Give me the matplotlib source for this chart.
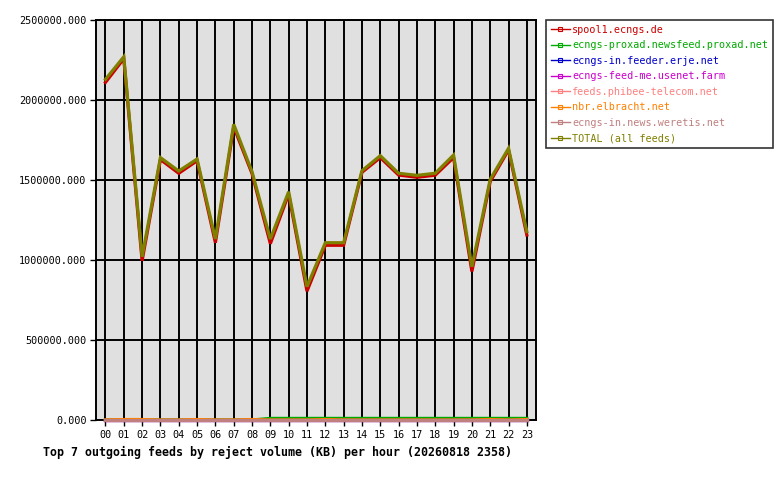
import matplotlib
matplotlib.use('Agg')
import matplotlib.pyplot as plt
from matplotlib.lines import Line2D

# hours of the day
hours = ['%02d' % h for h in range(24)]

# per-feed reject volume (KB) per hour
spool1 = [2110000, 2258000, 995000, 1628000, 1542000, 1620000, 1108000, 1832000,
          1540000, 1102000, 1412000, 805000, 1092000, 1092000, 1548000, 1640000,
          1531000, 1517000, 1530000, 1640000, 928000, 1490000, 1688000, 1156000]
proxad = [0, 0, 0, 0, 0, 0, 0, 0, 0, 10000, 10000, 10000, 10000, 10000, 10000, 10000,
          10000, 10000, 10000, 10000, 10000, 10000, 10000, 10000]
erje = [0] * 24
usenet_farm = [0] * 24
phibee = [0] * 24
elbracht = [0, 3000, 3000, 0, 0, 3000, 0, 0, 3000, 0, 0, 0, 3000, 0, 0, 0,
            0, 0, 0, 0, 0, 3000, 0, 3000]
weretis = [0] * 24
total = [2129000, 2270000, 1020000, 1640000, 1556000, 1631000, 1131000, 1848000,
         1552000, 1131000, 1427000, 833000, 1108000, 1108000, 1558000, 1652000,
         1542000, 1529000, 1542000, 1656000, 958000, 1504000, 1698000, 1177000]

labels = ['spool1.ecngs.de', 'ecngs-proxad.newsfeed.proxad.net', 'ecngs-in.feeder.erje.net',
          'ecngs-feed-me.usenet.farm', 'feeds.phibee-telecom.net', 'nbr.elbracht.net',
          'ecngs-in.news.weretis.net', 'TOTAL (all feeds)']
colors = ['#cc0000', '#00aa00', '#0000cc', '#cc00cc', '#ff8080', '#ff8000', '#c08080', '#808000']
series = [spool1, proxad, erje, usenet_farm, phibee, elbracht, weretis, total]

mono = 'DejaVu Sans Mono'
plt.rcParams['font.family'] = mono

fig = plt.figure(figsize=(7.8, 4.8), dpi=100)
ax = fig.add_axes([96.3 / 780, 1 - 420 / 480, (536 - 96.3) / 780, 400 / 480])
ax.set_facecolor('#e0e0e0')

x = list(range(24))
for vals, c in zip(series, colors):
    ax.plot(x, vals, color=c, lw=2.3, solid_joinstyle='miter', zorder=3, clip_on=False)

ax.set_xlim(-0.5, 23.5)
ax.set_ylim(0, 2500000)
ax.set_xticks(x)
ax.set_xticklabels(hours)
ax.set_yticks([0, 500000, 1000000, 1500000, 2000000, 2500000])
ax.set_yticklabels(['%.3f' % v for v in ax.get_yticks()])
ax.tick_params(labelsize=7.3, length=4, width=1, color='black', pad=3)
ax.grid(True, color='black', lw=1.4, zorder=1)
ax.set_axisbelow(True)
for s in ax.spines.values():
    s.set_linewidth(1.4)
    s.set_color('black')
    s.set_zorder(2)

fig.text(43 / 780, 1 - 452 / 480,
         'Top 7 outgoing feeds by reject volume (KB) per hour (20260818 2358)',
         fontsize=8.4, fontweight='bold', va='center', ha='left')

handles = [Line2D([0, 1], [0, 0], color=c, lw=1, marker='s', markersize=3,
                  markerfacecolor='none', markeredgewidth=0.8)
           for c in colors]
leg = fig.legend(handles, labels, loc='upper left', bbox_to_anchor=(546 / 780, 1 - 20 / 480),
                 fontsize=7.3, frameon=True, fancybox=False, handlelength=1.9,
                 handletextpad=0.25, labelspacing=0.55, borderpad=0.45, borderaxespad=0,
                 numpoints=1)
leg.get_frame().set_edgecolor('black')
leg.get_frame().set_linewidth(1.2)
for t, c in zip(leg.get_texts(), colors):
    t.set_color(c)

fig.savefig('out.png', dpi=100, facecolor='white')
